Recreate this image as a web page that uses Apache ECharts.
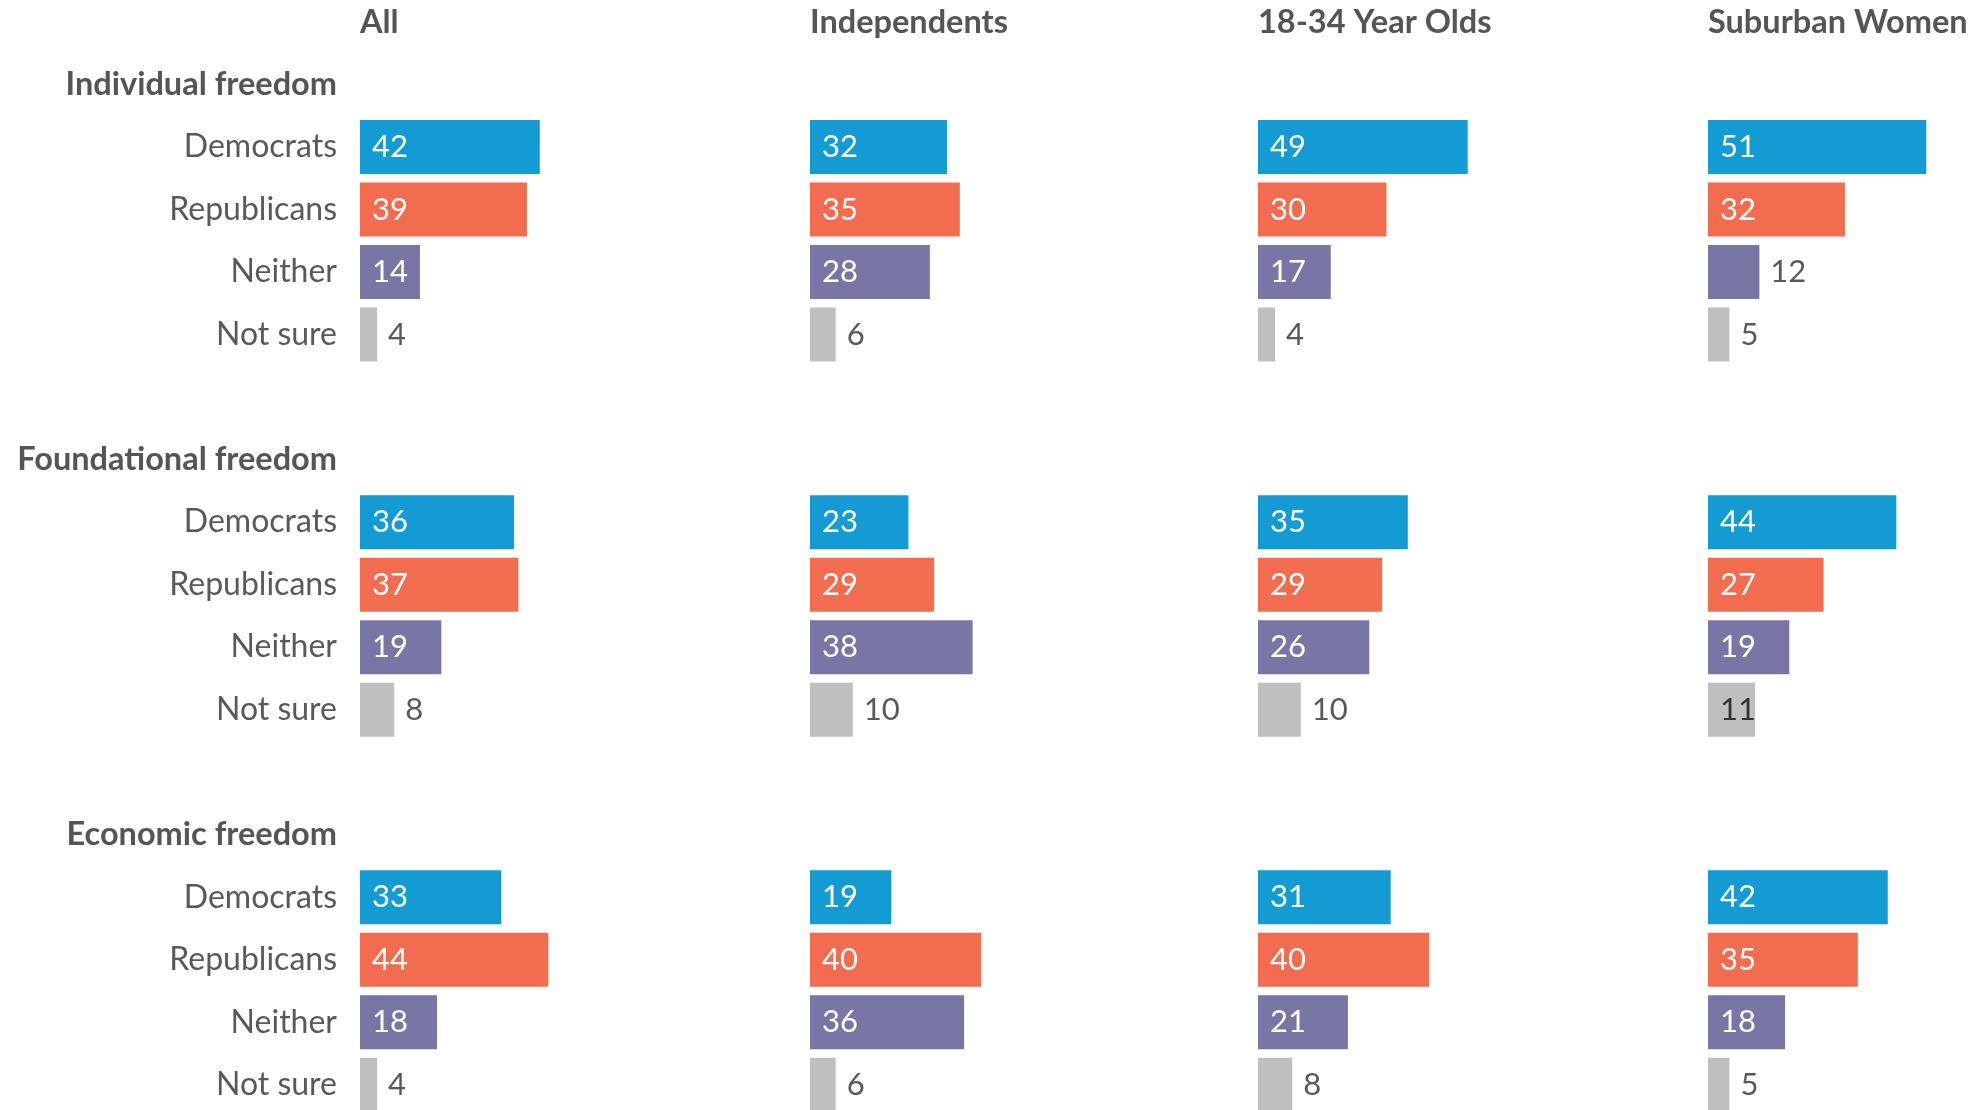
<!DOCTYPE html>
<html>
<head>
<meta charset="utf-8">
<script src="https://cdn.jsdelivr.net/npm/echarts@6/dist/echarts.min.js"></script>
<style>
html,body{margin:0;padding:0;background:#fff;}
#chart{width:1981px;height:1110px;}
</style>
</head>
<body>
<div id="chart"></div>
<script>
// ---- data ----
const columns = ['All', 'Independents', '18-34 Year Olds', 'Suburban Women'];
const groups = ['Individual freedom', 'Foundational freedom', 'Economic freedom'];
const answers = ['Democrats', 'Republicans', 'Neither', 'Not sure'];
const allValues = [[42, 39, 14, 4], [36, 37, 19, 8], [33, 44, 18, 4]];
const independentsValues = [[32, 35, 28, 6], [23, 29, 38, 10], [19, 40, 36, 6]];
const youngValues = [[49, 30, 17, 4], [35, 29, 26, 10], [31, 40, 21, 8]];
const suburbanWomenValues = [[51, 32, 12, 5], [44, 27, 19, 11], [42, 35, 18, 5]];
const columnValues = [allValues, independentsValues, youngValues, suburbanWomenValues];

// ---- styling ----
const answerColors = ['#149bd4', '#f26c4f', '#7776a5', '#bebfc1'];
const FONT = 'Lato';
const textGray = '#58595b';
const headGray = '#555555';

// rows: heading, 4 answers, spacer
const rowLabels = [];
const rowKinds = [];   // 'head' | answer index | 'blank'
groups.forEach((g, gi) => {
  rowLabels.push(g); rowKinds.push('head');
  answers.forEach((a, ai) => { rowLabels.push(a); rowKinds.push(ai); });
  if (gi < groups.length - 1) { rowLabels.push(''); rowKinds.push('blank'); }
});
const rowIds = rowLabels.map((l, i) => 'r' + i);

const colLeft = [360, 810, 1258, 1708];
const unitPx = 4.28;
const xMax = 60;
const rowPitch = 62.52;
const gridTop = 84.5 - rowPitch / 2;
const gridHeight = rowPitch * rowIds.length;

function isInside(v, ai) {
  if (v >= 13) return true;
  if (ai === 3 && v >= 11) return true;
  return false;
}

const grids = [], xAxes = [], yAxes = [], series = [], graphics = [];
columns.forEach((col, ci) => {
  grids.push({
    left: colLeft[ci], top: gridTop, width: unitPx * xMax, height: gridHeight,
    containLabel: false, outerBoundsMode: 'none'
  });
  xAxes.push({ gridIndex: ci, type: 'value', min: 0, max: xMax, show: false });
  yAxes.push({
    gridIndex: ci, type: 'category', data: rowIds, inverse: true,
    axisLine: { show: false }, axisTick: { show: false }, splitLine: { show: false },
    axisLabel: ci === 0 ? {
      show: true, margin: 23, interval: 0,
      formatter: (v, i) => rowKinds[i] === 'head' ? '{h|' + rowLabels[i] + '}' : (rowLabels[i] ? '{a|' + rowLabels[i] + '}' : ''),
      rich: {
        h: { fontFamily: FONT, fontWeight: 'bold', fontSize: 32.5, color: headGray },
        a: { fontFamily: FONT, fontSize: 32, color: textGray }
      }
    } : { show: false }
  });
  const vals = columnValues[ci];
  const data = [];
  let gi = -1;
  rowKinds.forEach((k) => {
    if (k === 'head') { gi++; data.push('-'); return; }
    if (k === 'blank') { data.push('-'); return; }
    const v = vals[gi][k];
    const inside = isInside(v, k);
    data.push({
      value: v,
      itemStyle: { color: answerColors[k] },
      label: {
        show: true,
        position: inside ? 'insideLeft' : 'right',
        distance: inside ? 12 : 11,
        color: inside ? (k === 3 ? '#333333' : '#ffffff') : textGray,
        fontFamily: FONT, fontSize: 31
      }
    });
  });
  series.push({
    type: 'bar', xAxisIndex: ci, yAxisIndex: ci, data: data,
    barWidth: 54, silent: true, animation: false
  });
  graphics.push({
    type: 'text', left: colLeft[ci], top: 6,
    style: { text: col, fontFamily: FONT, fontWeight: 'bold', fontSize: 32.5, fill: headGray }
  });
});

const chart = echarts.init(document.getElementById('chart'), null, { renderer: 'canvas' });
chart.setOption({
  backgroundColor: '#ffffff',
  animation: false,
  grid: grids, xAxis: xAxes, yAxis: yAxes, series: series, graphic: graphics
});
</script>
</body>
</html>
